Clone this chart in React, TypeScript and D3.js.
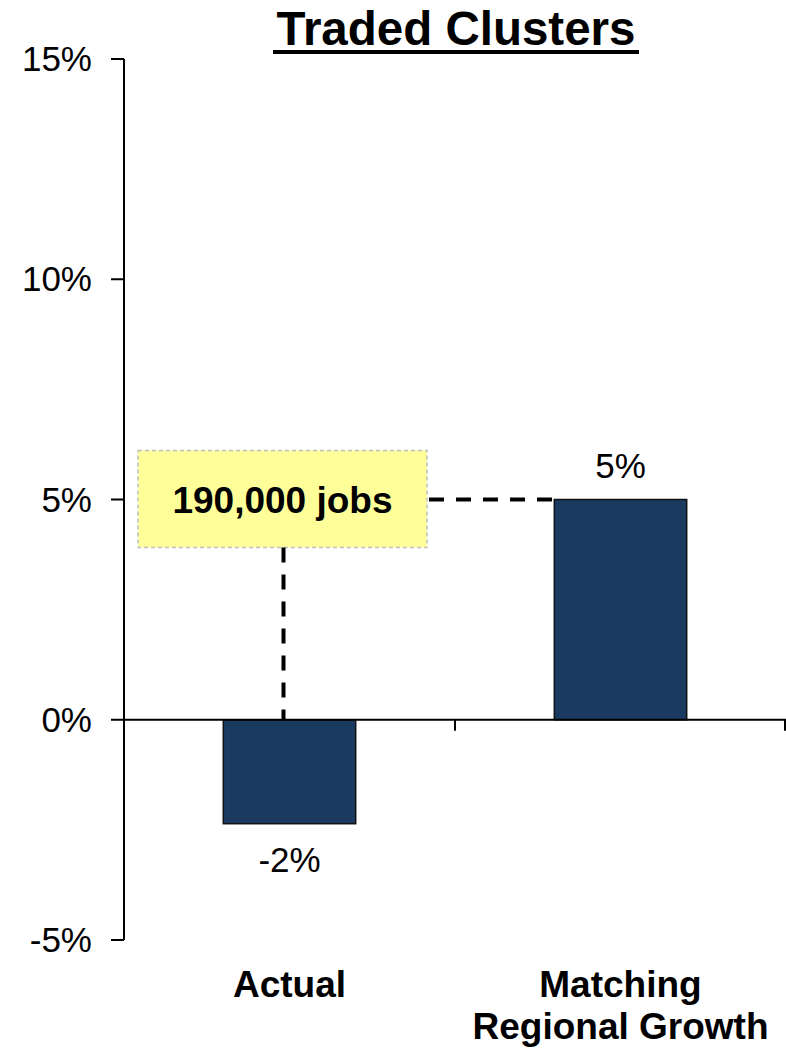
import React from "react";
import * as d3 from "d3";

const categories: string[][] = [["Actual"], ["Matching", "Regional Growth"]];
const categoryKeys = ["Actual", "Matching Regional Growth"];
const values = [-2.36, 5.0];
const valueLabels = ["-2%", "5%"];
const yTicks = [-5, 0, 5, 10, 15];
const title = "Traded Clusters";
const annotationText = "190,000 jobs";
const annotationLevel = 5;

const W = 786;
const H = 1049;
const FONT = "Liberation Sans, Arial, Helvetica, sans-serif";

export default function App() {
  const y = d3.scaleLinear().domain([-5, 15]).range([940, 59]);
  const x = d3.scaleBand<string>().domain(categoryKeys).range([124, 786]).paddingInner(0).paddingOuter(0);
  const bw = x.bandwidth();
  const barW = bw * 0.4;
  const cx = (k: string) => (x(k) as number) + bw / 2;

  const boxCx = cx(categoryKeys[0]) - 7;
  const boxW = 289;
  const boxH = 97;
  const boxTop = y(annotationLevel) - 49;
  const boxRight = boxCx + boxW / 2;
  const bar2Left = cx(categoryKeys[1]) - barW / 2;

  return (
    <svg width={W} height={H} style={{ position: "absolute", left: 0, top: 0, background: "#fff" }} fontFamily={FONT}>
      {/* title */}
      <text x={456} y={45} textAnchor="middle" fontSize={47.5} fontWeight="bold" fill="#000">
        {title}
      </text>
      <rect x={273} y={50} width={366} height={4} fill="#000" />

      {/* annotation box */}
      <rect
        x={boxCx - boxW / 2}
        y={boxTop}
        width={boxW}
        height={boxH}
        fill="#FFFF99"
        stroke="#BFBFBF"
        strokeWidth={1.5}
        strokeDasharray="4,3"
      />
      <text x={boxCx} y={y(annotationLevel) + 13} textAnchor="middle" fontSize={37} fontWeight="bold" fill="#000">
        {annotationText}
      </text>
      <line
        x1={boxRight + 2}
        x2={bar2Left}
        y1={y(annotationLevel)}
        y2={y(annotationLevel)}
        stroke="#000"
        strokeWidth={4}
        strokeDasharray="15,12"
      />
      <line
        x1={boxCx + 1}
        x2={boxCx + 1}
        y1={boxTop + boxH}
        y2={y(0)}
        stroke="#000"
        strokeWidth={4}
        strokeDasharray="15,12"
      />

      {/* bars */}
      {categoryKeys.map((k, i) => {
        const v = values[i];
        const top = y(Math.max(0, v));
        const bottom = y(Math.min(0, v));
        return (
          <rect
            key={k}
            x={cx(k) - barW / 2}
            y={top}
            width={barW}
            height={bottom - top}
            fill="#1B3A5F"
            stroke="#111"
            strokeWidth={1.5}
          />
        );
      })}

      {/* value labels */}
      {categoryKeys.map((k, i) => {
        const v = values[i];
        const ty = v >= 0 ? y(v) - 22 : y(v) + 48;
        return (
          <text key={k} x={cx(k)} y={ty} textAnchor="middle" fontSize={35} fill="#000">
            {valueLabels[i]}
          </text>
        );
      })}

      {/* y axis */}
      <line x1={124} x2={124} y1={y(15)} y2={y(-5)} stroke="#000" strokeWidth={2} />
      {yTicks.map((t) => (
        <g key={t}>
          <line x1={111} x2={124} y1={y(t)} y2={y(t)} stroke="#000" strokeWidth={2} />
          <text x={92} y={y(t) + 12} textAnchor="end" fontSize={35} fill="#000">
            {`${t}%`}
          </text>
        </g>
      ))}

      {/* x axis at zero */}
      <line x1={124} x2={786} y1={y(0)} y2={y(0)} stroke="#000" strokeWidth={2} />
      {categoryKeys.map((k) => {
        const xe = (x(k) as number) + bw;
        return <line key={k} x1={Math.min(xe, 785)} x2={Math.min(xe, 785)} y1={y(0)} y2={y(0) + 11} stroke="#000" strokeWidth={2} />;
      })}

      {/* category labels */}
      {categoryKeys.map((k, i) => (
        <text key={k} x={cx(k)} textAnchor="middle" fontSize={37} fontWeight="bold" fill="#000">
          {categories[i].map((line, j) => (
            <tspan key={j} x={cx(k)} y={997 + j * 42}>
              {line}
            </tspan>
          ))}
        </text>
      ))}
    </svg>
  );
}
